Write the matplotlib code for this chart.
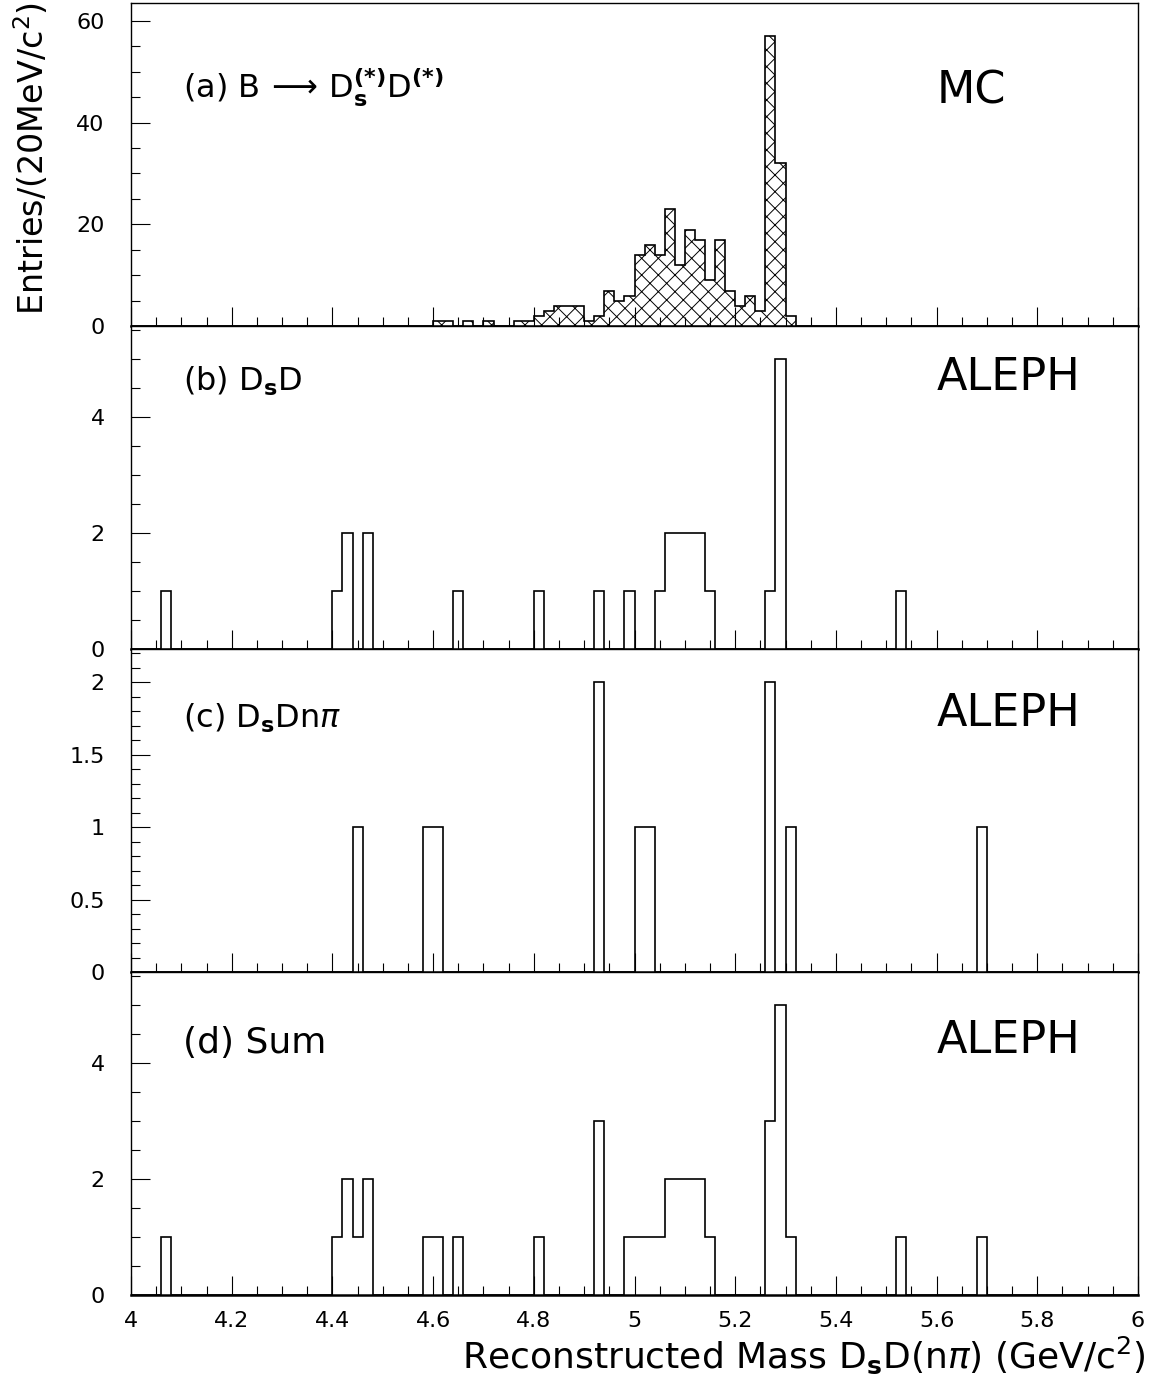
import numpy as np
import matplotlib
matplotlib.use("Agg")
import matplotlib.pyplot as plt
from matplotlib.ticker import MultipleLocator, FixedLocator

plt.rcParams['font.family'] = ['DejaVu Sans']
plt.rcParams['mathtext.fontset'] = 'dejavusans'
plt.rcParams['hatch.linewidth'] = 0.7

# ---- data: 20 MeV bins from 4.0 to 6.0 GeV, given as (bin low edge, count)
bin_width = 0.02
x_min, x_max = 4.0, 6.0

mc_edges = [4.60, 4.62, 4.66, 4.70, 4.76, 4.78, 4.80, 4.82, 4.84, 4.86, 4.88,
            4.90, 4.92, 4.94, 4.96, 4.98, 5.00, 5.02, 5.04, 5.06, 5.08, 5.10,
            5.12, 5.14, 5.16, 5.18, 5.20, 5.22, 5.24, 5.26, 5.28, 5.30]
mc_counts = [1, 1, 1, 1, 1, 1, 2, 3, 4, 4, 4,
             1, 2, 7, 5, 6, 14, 16, 14, 23, 12, 19,
             17, 9, 17, 7, 4, 6, 3, 57, 32, 2]

dsd_edges = [4.06, 4.40, 4.42, 4.46, 4.64, 4.80, 4.92, 4.98, 5.04, 5.06,
             5.08, 5.10, 5.12, 5.14, 5.26, 5.28, 5.52]
dsd_counts = [1, 1, 2, 2, 1, 1, 1, 1, 1, 2,
              2, 2, 2, 1, 1, 5, 1]

dsdnpi_edges = [4.44, 4.58, 4.60, 4.92, 5.00, 5.02, 5.26, 5.30, 5.68]
dsdnpi_counts = [1, 1, 1, 2, 1, 1, 2, 1, 1]

x_tick_values = [4.0, 4.2, 4.4, 4.6, 4.8, 5.0, 5.2, 5.4, 5.6, 5.8, 6.0]
x_tick_labels = ["4", "4.2", "4.4", "4.6", "4.8", "5", "5.2", "5.4", "5.6", "5.8", "6"]

nbins = int(round((x_max - x_min) / bin_width))
edges = np.linspace(x_min, x_max, nbins + 1)


def fill_bins(lows, counts):
    h = np.zeros(nbins)
    for lo, c in zip(lows, counts):
        h[int(round((lo - x_min) / bin_width))] += c
    return h


h_mc = fill_bins(mc_edges, mc_counts)
h_dsd = fill_bins(dsd_edges, dsd_counts)
h_dsdnpi = fill_bins(dsdnpi_edges, dsdnpi_counts)
h_sum = h_dsd + h_dsdnpi

panels = [
    dict(h=h_mc, ymax=63.4, major=20, minor=5, hatch=True,
         label=r'(a) B$\,\longrightarrow\,$D$_\mathbf{s}^{\mathbf{(*)}}$D$^{\mathbf{(*)}}$',
         lsize=23, ly=0.706, tag='MC', ty=0.691),
    dict(h=h_dsd, ymax=5.565, major=2, minor=0.5, hatch=False,
         label=r'(b) D$_\mathbf{s}$D', lsize=23, ly=0.802, tag='ALEPH', ty=0.804),
    dict(h=h_dsdnpi, ymax=2.228, major=0.5, minor=0.1, hatch=False,
         label=r'(c) D$_\mathbf{s}$Dn$\pi$', lsize=23, ly=0.757, tag='ALEPH', ty=0.762),
    dict(h=h_sum, ymax=5.565, major=2, minor=0.5, hatch=False,
         label='(d) Sum', lsize=26, ly=0.751, tag='ALEPH', ty=0.749),
]

W, H = 1150, 1376
fig = plt.figure(figsize=(W / 100, H / 100), dpi=100)

left = 131 / W
width = (1138 - 131) / W
ph = 323.0 / H
bottom0 = 1 - 1295.3 / H

for i, p in enumerate(panels):
    b = bottom0 + (3 - i) * ph
    ax = fig.add_axes([left, b, width, ph])
    if p['hatch']:
        ax.stairs(p['h'], edges, fill=True, facecolor='white', edgecolor='black',
                  hatch='xx', linewidth=0.0)
    ax.stairs(p['h'], edges, fill=False, color='black', linewidth=1.2)
    ax.set_xlim(x_min, x_max)
    ax.set_ylim(0, p['ymax'])

    ax.xaxis.set_major_locator(FixedLocator(x_tick_values))
    ax.xaxis.set_minor_locator(MultipleLocator(0.05))
    ax.yaxis.set_major_locator(MultipleLocator(p['major']))
    ax.yaxis.set_minor_locator(MultipleLocator(p['minor']))

    ax.tick_params(axis='both', which='both', direction='in', top=False, right=False,
                   width=0.8, color='black')
    ax.tick_params(axis='both', which='major', length=13.5)
    ax.tick_params(axis='both', which='minor', length=6.5)
    ax.tick_params(axis='y', which='major', pad=19, labelsize=16)
    ax.tick_params(axis='x', which='major', pad=11, labelsize=16)

    if p['major'] == 0.5:
        ax.set_yticks([0, 0.5, 1, 1.5, 2])
        ax.set_yticklabels(["0", "0.5", "1", "1.5", "2"])
    else:
        ticks = np.arange(0, p['ymax'], p['major'])
        ax.set_yticks(ticks)
        ax.set_yticklabels([f"{t:g}" for t in ticks])

    if i < 3:
        ax.set_xticklabels([])
    else:
        ax.set_xticklabels(x_tick_labels)

    for s in ['left', 'right', 'top']:
        ax.spines[s].set_linewidth(1.0)
    ax.spines['bottom'].set_linewidth(1.8)

    ax.text(0.0516, p['ly'], p['label'], transform=ax.transAxes, fontsize=p['lsize'],
            ha='left', va='baseline')
    ax.text(0.800, p['ty'], p['tag'], transform=ax.transAxes, fontsize=32,
            ha='left', va='baseline')

fig.text(32 / W, 1 - 158 / H, r'Entries/(20MeV/c$^{2}$)', rotation=90,
         ha='center', va='center', fontsize=24)
fig.text(1146 / W, 1 - 1355 / H, r'Reconstructed Mass D$_\mathbf{s}$D(n$\pi$) (GeV/c$^{2}$)',
         ha='right', va='center', fontsize=26)

fig.savefig('out.png', dpi=100)
